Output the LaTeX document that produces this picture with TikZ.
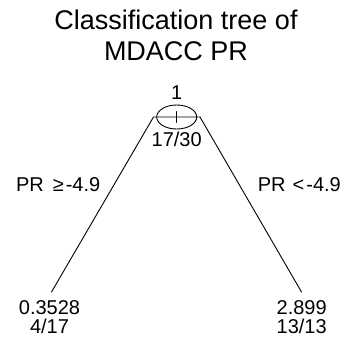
\documentclass[tikz,border=0pt]{standalone}
\usepackage{fontspec}
\setmainfont{Liberation Sans}
\usetikzlibrary{shapes.geometric}
\begin{document}
\begin{tikzpicture}[x=1pt,y=-1pt,
  lbl/.style={inner sep=0pt, font=\fontsize{20}{22}\selectfont},
  ttl/.style={inner sep=0pt, font=\fontsize{27}{30}\selectfont},
  edge/.style={line width=0.9pt, line cap=round}]
\useasboundingbox (0,0) rectangle (344,337);
% title
\node[ttl, anchor=base] (t1) at (176,30) {Classification tree of};
\node[ttl, anchor=base] (t2) at (176,60) {MDACC PR};
% root split
\coordinate (root) at (176.7,117);
\coordinate (lt) at (153.5,117);
\coordinate (rt) at (200,117);
\coordinate (lb) at (51.5,292);
\coordinate (rb) at (301.5,292);
\node[draw, ellipse, line width=0.9pt, minimum width=40pt, minimum height=24pt, inner sep=0pt] (ell) at (root) {};
\draw[edge] (lb) -- (lt) -- (rt) -- (rb);
\draw[edge] ([yshift=-5.5pt]root) -- ([yshift=5.5pt]root);
\node[lbl, anchor=base] (n1) at (176.7,99) {1};
\node[lbl, anchor=base] (n2) at (176.7,146.5) {17/30};
% split labels
\node[lbl, anchor=base west] (sl) at (15.8,191.5) {PR\hspace{9pt}≥\hspace{2pt}-4.9};
\node[lbl, anchor=base east] (sr) at (341,191.5) {PR\hspace{7pt}<\hspace{2pt}-4.9};
% leaves
\node[lbl, anchor=base] (l1) at (49.5,314.5) {0.3528};
\node[lbl, anchor=base] (l2) at (49.5,333) {4/17};
\node[lbl, anchor=base] (r1) at (301.7,314.5) {2.899};
\node[lbl, anchor=base] (r2) at (301.7,333) {13/13};
\end{tikzpicture}
\end{document}
